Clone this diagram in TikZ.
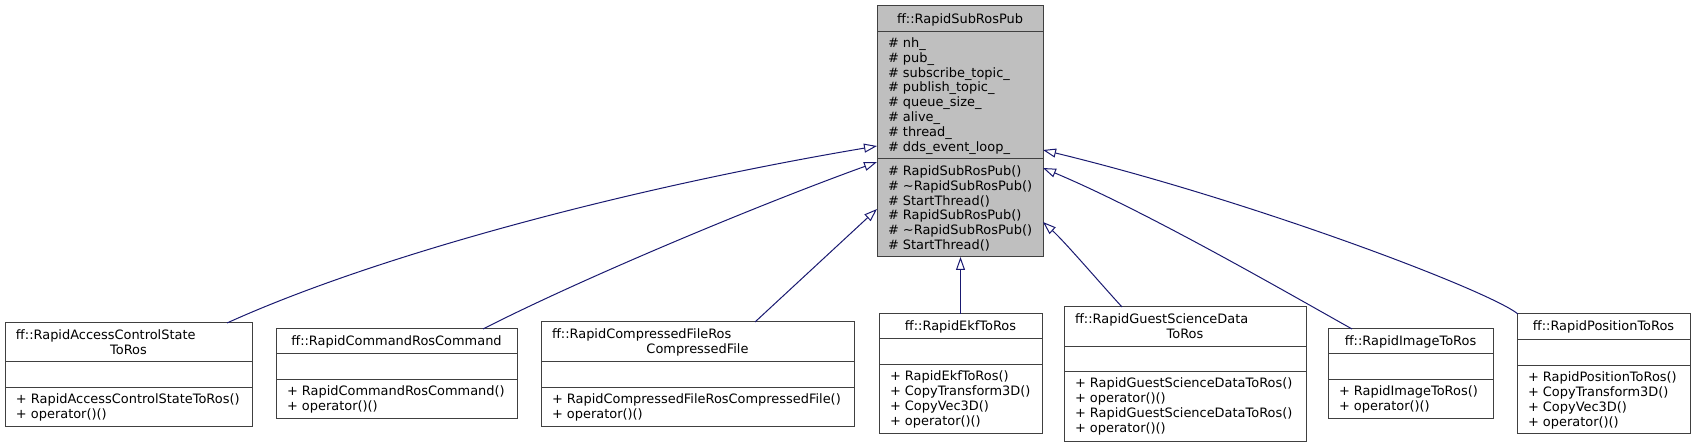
\documentclass[tikz,border=0pt]{standalone}
\usepackage{fontspec}
\setmainfont{DejaVu Sans}
\usetikzlibrary{arrows.meta,calc}
\definecolor{edgecol}{HTML}{191970}
\definecolor{basefill}{HTML}{BFBFBF}
\definecolor{bordercol}{HTML}{404040}
\tikzset{
  clsbox/.style={draw=bordercol, line width=0.75pt, rectangle, inner sep=0pt, outer sep=0pt},
  sepline/.style={draw=bordercol, line width=0.75pt},
  txt/.style={inner sep=0pt, outer sep=0pt, font=\fontsize{9.7}{11.1}\selectfont, text=black},
  inh/.style={draw=edgecol, line width=0.75pt, -{Triangle[open, length=9.75pt, width=6.75pt]}}
}
% name, x1, y1, x2, y2, sep1, sep2, fill
\newcommand{\clsdraw}[8]{%
  \node[clsbox, fill=#8, anchor=north west,
        minimum width={(#4-#2)*0.75pt}, minimum height={(#5-#3)*0.75pt}] (#1) at (#2,#3) {};
  \draw[sepline] (#2,#6) -- (#4,#6);
  \draw[sepline] (#2,#7) -- (#4,#7);
}
% prefix, x, first baseline, list
\newcommand{\rowsdraw}[4]{%
  \foreach \t [count=\i] in {#4} {
    \node[txt, anchor=base west] (#1-\i) at (#2, {#3+14.8*(\i-1)}) {\t};
  }
}
\begin{document}
\begin{tikzpicture}[x=0.75pt, y=-0.75pt]
\useasboundingbox (0,0) rectangle (1695,448);

% base class
\clsdraw{base}{877}{6}{1043}{257}{32}{159}{basefill}
\node[txt, anchor=base] (base-t) at (960,23.5) {ff::RapidSubRosPub};
\rowsdraw{base-a}{888}{47.5}{{\# nh\_},{\# pub\_},{\# subscribe\_topic\_},{\# publish\_topic\_},{\# queue\_size\_},{\# alive\_},{\# thread\_},{\# dds\_event\_loop\_}}
\rowsdraw{base-m}{888}{175.5}{{\# RapidSubRosPub()},{\# \textasciitilde{}RapidSubRosPub()},{\# StartThread()},{\# RapidSubRosPub()},{\# \textasciitilde{}RapidSubRosPub()},{\# StartThread()}}

% c1
\clsdraw{c1}{5}{323}{252}{427}{362}{388}{white}
\node[txt, anchor=base west] (c1-t1) at (16,339.5) {ff::RapidAccessControlState};
\node[txt, anchor=base] (c1-t2) at (128.5,354.3) {ToRos};
\rowsdraw{c1-m}{16}{404}{{+ RapidAccessControlStateToRos()},{+ operator()()}}

% c2
\clsdraw{c2}{276}{329}{517}{419}{354}{380}{white}
\node[txt, anchor=base] (c2-t) at (396.5,345.5) {ff::RapidCommandRosCommand};
\rowsdraw{c2-m}{287}{396}{{+ RapidCommandRosCommand()},{+ operator()()}}

% c3
\clsdraw{c3}{541}{322}{854}{427}{362}{388}{white}
\node[txt, anchor=base west] (c3-t1) at (552,338.5) {ff::RapidCompressedFileRos};
\node[txt, anchor=base] (c3-t2) at (697.5,353.3) {CompressedFile};
\rowsdraw{c3-m}{552}{404}{{+ RapidCompressedFileRosCompressedFile()},{+ operator()()}}

% c4
\clsdraw{c4}{879}{314}{1042}{434}{339}{365}{white}
\node[txt, anchor=base] (c4-t) at (960.5,330.5) {ff::RapidEkfToRos};
\rowsdraw{c4-m}{890}{381}{{+ RapidEkfToRos()},{+ CopyTransform3D()},{+ CopyVec3D()},{+ operator()()}}

% c5
\clsdraw{c5}{1064}{307}{1306}{442}{347}{372}{white}
\node[txt, anchor=base west] (c5-t1) at (1075,323.5) {ff::RapidGuestScienceData};
\node[txt, anchor=base] (c5-t2) at (1185,338.3) {ToRos};
\rowsdraw{c5-m}{1075}{388}{{+ RapidGuestScienceDataToRos()},{+ operator()()},{+ RapidGuestScienceDataToRos()},{+ operator()()}}

% c6
\clsdraw{c6}{1328}{329}{1493}{419}{354}{380}{white}
\node[txt, anchor=base] (c6-t) at (1410.5,345.5) {ff::RapidImageToRos};
\rowsdraw{c6-m}{1339}{396}{{+ RapidImageToRos()},{+ operator()()}}

% c7
\clsdraw{c7}{1517}{314}{1690}{434}{340}{366}{white}
\node[txt, anchor=base] (c7-t) at (1603.5,330.5) {ff::RapidPositionToRos};
\rowsdraw{c7-m}{1528}{382}{{+ RapidPositionToRos()},{+ CopyTransform3D()},{+ CopyVec3D()},{+ operator()()}}

% connectors
\draw[inh] ($(c1.north west)+(222,0)$) .. controls (377,255) and (628,188) .. ($(base.north west)+(0,140)$);
\draw[inh] ($(c2.north west)+(207,0)$) .. controls (583,278) and (758,205) .. ($(base.north west)+(0,156)$);
\draw[inh] ($(c3.north west)+(214,0)$) -- ($(base.north west)+(0,203)$);
\draw[inh] (c4.north) -- (c4.north |- base.south);
\draw[inh] ($(c5.north west)+(58,0)$) .. controls (1100,283) and (1065,242) .. ($(base.north east)+(0,216)$);
\draw[inh] ($(c6.north west)+(24,0)$) .. controls (1272,284) and (1143,210) .. ($(base.north east)+(0,162)$);
\draw[inh] ($(c7.north west)+(1,0)$) .. controls (1488,290) and (1250,200) .. ($(base.north east)+(0,144)$);
\end{tikzpicture}
\end{document}
